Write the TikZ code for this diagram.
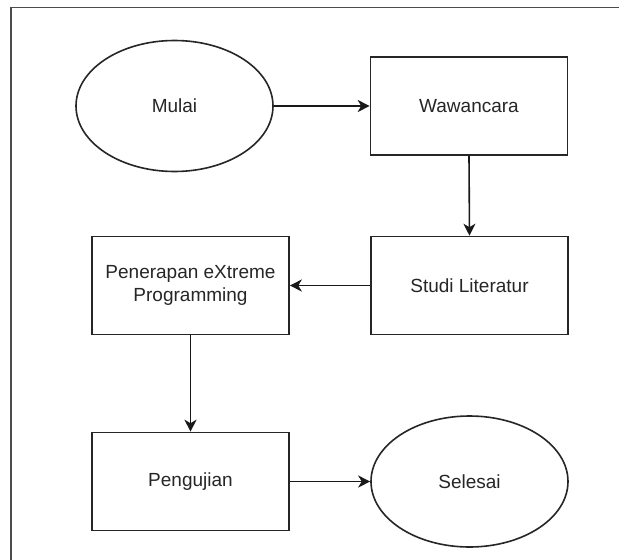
\documentclass[tikz,border=0pt]{standalone}
\usepackage{fontspec}
\setmainfont{Liberation Sans}
\usetikzlibrary{shapes.geometric,arrows.meta}
\tikzset{
  boxnode/.style={draw=black!85, line width=1.6pt, rectangle, minimum width=197pt, minimum height=98pt, inner sep=0pt, align=center, text=black!85, font=\fontsize{19}{23}\selectfont},
  ovalnode/.style={draw=black!85, line width=1.6pt, ellipse, minimum width=197pt, minimum height=131pt, inner sep=0pt, align=center, text=black!85, font=\fontsize{19}{23}\selectfont},
  flow/.style={draw=black!90, line width=1.6pt, -{Stealth[length=12pt, width=12pt, inset=3.5pt]}}
}
\begin{document}
\begin{tikzpicture}[x=1pt,y=-1pt]
\clip (0,0) rectangle (619,560);
\fill[white] (0,0) rectangle (619,560);
\draw[black!70, line width=1.2pt] (11,570) -- (11,7.5) -- (630,7.5);
\node[ovalnode] (mulai) at (174.5,106) {Mulai};
\node[boxnode] (wawan) at (469,106) {Wawancara};
\node[boxnode] (studi) at (469.5,285.5) {Studi Literatur};
\node[boxnode] (xp) at (190.5,285.5) {Penerapan eXtreme\\Programming};
\node[boxnode] (uji) at (190.5,481.5) {Pengujian};
\node[ovalnode] (selesai) at (469.5,481.5) {Selesai};
\draw[flow] (mulai.east) -- (wawan.west);
\draw[flow] (wawan.south) -- (studi.north);
\draw[flow] (studi.west) -- (xp.east);
\draw[flow] (xp.south) -- (uji.north);
\draw[flow] (uji.east) -- (selesai.west);
\end{tikzpicture}
\end{document}
